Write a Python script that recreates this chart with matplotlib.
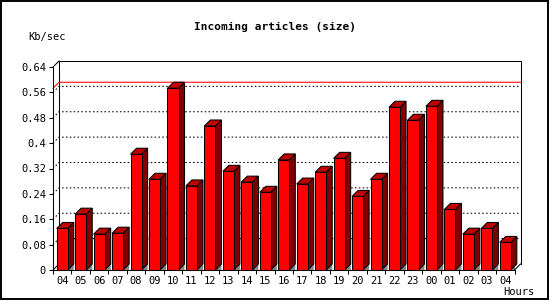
import matplotlib
matplotlib.use("Agg")
import matplotlib.pyplot as plt
from matplotlib.patches import Polygon, Rectangle

hours = ["04", "05", "06", "07", "08", "09", "10", "11", "12", "13", "14", "15", "16",
         "17", "18", "19", "20", "21", "22", "23", "00", "01", "02", "03", "04"]
kb_sec = [0.131, 0.176, 0.113, 0.116, 0.365, 0.286, 0.573, 0.265, 0.454, 0.311, 0.277,
          0.245, 0.347, 0.271, 0.308, 0.352, 0.232, 0.286, 0.513, 0.472, 0.516, 0.191,
          0.113, 0.131, 0.087]
y_ticks = [0, 0.08, 0.16, 0.24, 0.32, 0.4, 0.48, 0.56, 0.64]
y_labels = ["0", "0.08", "0.16", "0.24", "0.32", "0.4", "0.48", "0.56", "0.64"]

W, H = 550, 300
fig = plt.figure(figsize=(W / 100, H / 100), dpi=100)
fig.patch.set_facecolor("white")

# front plane of the plot, in pixels: x 53..514.5, y 270..67
ax = fig.add_axes([53 / W, 30 / H, 461.5 / W, 203 / H])
n = len(kb_sec)
ax.set_xlim(0, n)
ax.set_ylim(0, 0.64)
ax.patch.set_visible(False)

# 3d depth of 6 px, converted to data units
dx = 6 / (461.5 / n)
dy = 6 / (203 / 0.64)

mono = "DejaVu Sans Mono"
lw = 0.75

# back wall
ax.plot([dx, dx, n + dx, n + dx], [dy, 0.64 + dy, 0.64 + dy, dy], color="black",
        lw=lw, clip_on=False, zorder=1)
ax.plot([0, dx], [0.64, 0.64 + dy], color="black", lw=lw, clip_on=False, zorder=1)
ax.plot([0, dx], [0, dy], color="black", lw=lw, clip_on=False, zorder=1)
ax.plot([n, n + dx], [0, dy], color="black", lw=lw, clip_on=False, zorder=6)

# dotted grid on the back wall
for v in y_ticks[1:-1]:
    ax.plot([0, dx, n + dx], [v, v + dy, v + dy], color="black", lw=lw,
            linestyle=(0, (1.5, 2.2)), clip_on=False, zorder=1)

# red line at the max value
top = max(kb_sec)
ax.plot([0, dx, n + dx], [top, top + dy, top + dy], color="#ff0000", lw=lw,
        clip_on=False, zorder=1.5)

# bars
bw = 0.6
for i, v in enumerate(kb_sec):
    l = i + 0.5 - bw / 2
    r = l + bw
    ax.add_patch(Polygon([(r, 0), (r + dx, dy), (r + dx, 0)], closed=True,
                         facecolor="#888888", edgecolor="none", zorder=2))
    ax.add_patch(Polygon([(r, 0), (r, v), (r + dx, v + dy), (r + dx, dy)], closed=True,
                         facecolor="#800000", edgecolor="black", lw=lw, zorder=3,
                         clip_on=False))
    ax.add_patch(Polygon([(l, v), (r, v), (r + dx, v + dy), (l + dx, v + dy)], closed=True,
                         facecolor="#c00000", edgecolor="black", lw=lw, zorder=3,
                         clip_on=False))
ax.bar([i + 0.5 for i in range(n)], kb_sec, width=bw, color="#ff0000",
       edgecolor="black", linewidth=lw, zorder=4)

# axes
for s in ["top", "right"]:
    ax.spines[s].set_visible(False)
for s in ["left", "bottom"]:
    ax.spines[s].set_linewidth(lw)
    ax.spines[s].set_zorder(6)

ax.set_yticks(y_ticks)
ax.set_yticklabels(y_labels, fontsize=7.5, family=mono)
ax.set_xticks(range(n + 1))
ax.set_xticklabels([""] * (n + 1))
ax.set_xticks([i + 0.5 for i in range(n)], minor=True)
ax.set_xticklabels(hours, minor=True, fontsize=7.5, family=mono)
ax.tick_params(axis="both", which="major", length=3, width=lw, pad=2)
ax.tick_params(axis="x", which="minor", length=0, pad=4)

fig.text(275 / W, 1 - 27 / H, "Incoming articles (size)", ha="center", va="center",
         fontsize=8, fontweight="bold", family=mono)
fig.text(47 / W, 1 - 37 / H, "Kb/sec", ha="center", va="center", fontsize=7.5, family=mono)
fig.text(519 / W, 1 - 292 / H, "Hours", ha="center", va="center", fontsize=7.5, family=mono)

# outer frame
fig.add_artist(Rectangle((1 / W, 1 / H), 547 / W, 298 / H, transform=fig.transFigure,
                         fill=False, edgecolor="black", lw=1.4))

fig.savefig("out.png", dpi=100)
